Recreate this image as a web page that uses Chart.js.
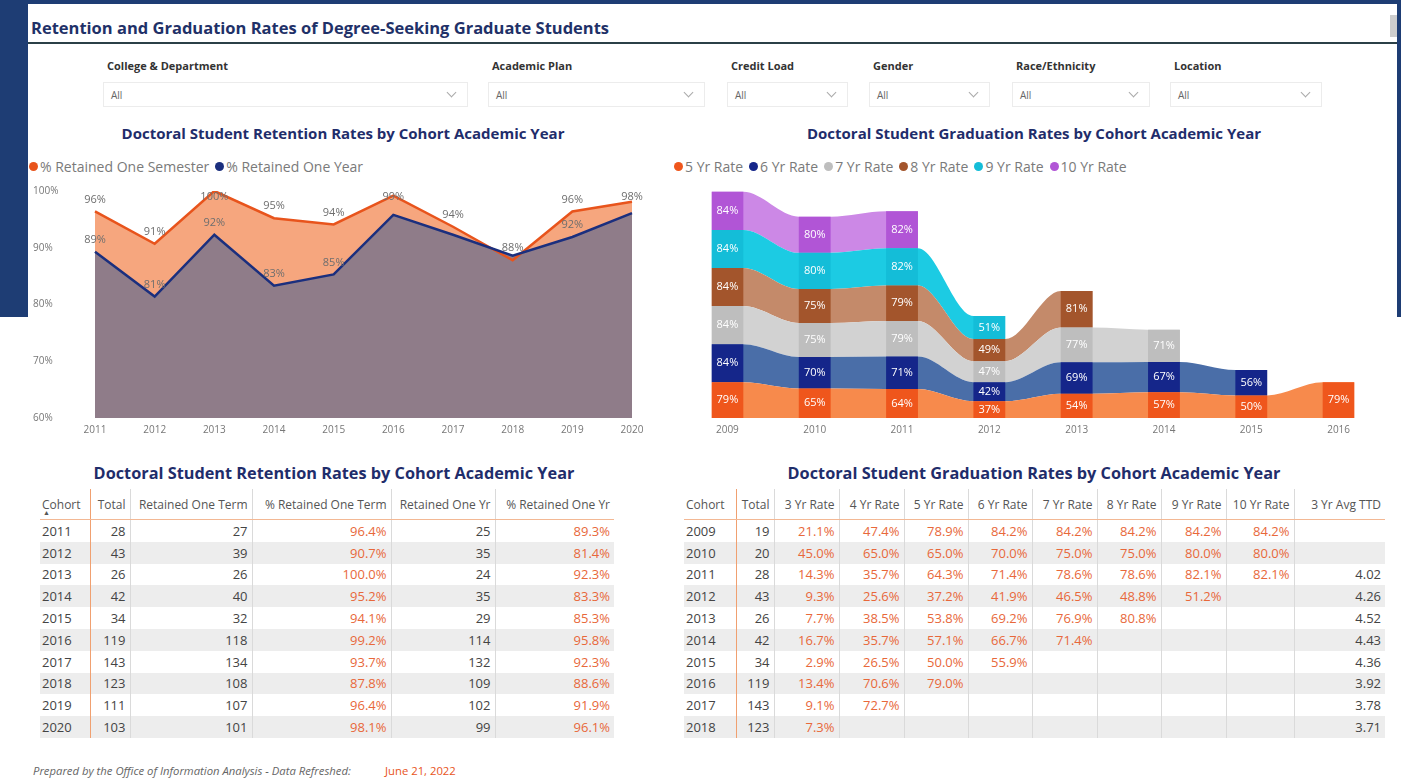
<!DOCTYPE html>
<html>
<head>
<meta charset="utf-8">
<script src="https://cdn.jsdelivr.net/npm/chart.js@4.4.1/dist/chart.umd.min.js"></script>
<style>
  body { margin: 0; width: 1401px; height: 779px; overflow: hidden; background: #fff; position: relative; font-family: "Open Sans", sans-serif; }
  .frame { position: absolute; background: #1e3d74; }
  .abs { position: absolute; }
  .page-title { left: 31px; top: 16px; font-size: 16.5px; font-weight: 700; color: #1f3168; white-space: nowrap; }
  .rule { left: 28px; top: 42px; width: 1369px; height: 2px; background: #2b4047; }
  .scroll { left: 1390px; top: 15px; width: 7px; height: 22px; background: #cdcdcd; }
  .flabel { font-size: 11px; font-weight: 700; color: #333; top: 58px; white-space: nowrap; }
  .fbox { top: 82px; height: 25px; border: 1px solid #ececec; box-sizing: border-box; font-size: 10px; color: #666; line-height: 24px; padding-left: 7px; }
  .fbox .chev { position: absolute; right: 12px; top: 6px; width: 6px; height: 6px; border-right: 1px solid #aaa; border-bottom: 1px solid #aaa; transform: rotate(45deg); }
  .ctitle { font-size: 15px; font-weight: 700; color: #1f2d6b; white-space: nowrap; transform: translateX(-50%); }
  .ttitle { font-size: 16.3px; font-weight: 700; color: #1f2d6b; white-space: nowrap; transform: translateX(-50%); }
  .legend { top: 157px; font-size: 14px; color: #7a7a7a; white-space: nowrap; display: flex; align-items: center; }
  .legend span.dot { display: inline-block; width: 9px; height: 9px; border-radius: 50%; margin-right: 2px; }
  .legend span.item { display: inline-flex; align-items: center; margin-right: 6px; }
  table { position: absolute; border-collapse: collapse; table-layout: fixed; font-size: 13px; color: #444; }
  th { font-size: 12px; font-weight: 400; color: #555; height: 30px; text-align: right; padding: 0 4px; border-bottom: 1px solid #f3b894; white-space: nowrap; overflow: hidden; }
  td { height: 21.8px; padding: 0 4px; text-align: right; white-space: nowrap; }
  th:first-child, td:first-child { text-align: left; padding-left: 2px; }
  th + th, td + td { border-left: 1px solid #dadada; }
  th:nth-child(2), td:nth-child(2) { border-left: 1px solid #f0a070; }
  tbody tr:nth-child(even) td { background: #ededed; }
  td.pct { color: #e8683a; }
  .footer { left: 33px; top: 763px; font-size: 11.3px; font-style: italic; color: #666; white-space: nowrap; }
  .footer .date { color: #e8541c; font-style: normal; position: absolute; left: 352px; }
</style>
</head>
<body>
<div class="frame" style="left:0;top:0;width:1401px;height:4px"></div>
<div class="frame" style="left:0;top:0;width:28px;height:317px"></div>
<div class="frame" style="left:1397px;top:0;width:4px;height:317px"></div>

<div class="abs page-title">Retention and Graduation Rates of Degree-Seeking Graduate Students</div>
<div class="abs rule"></div>
<div class="abs scroll"></div>

<div id="filters"></div>

<div class="abs ctitle" style="left:343px;top:123px">Doctoral Student Retention Rates by Cohort Academic Year</div>
<div class="abs ctitle" style="left:1034px;top:123px">Doctoral Student Graduation Rates by Cohort Academic Year</div>
<div class="abs legend" id="retLegend" style="left:29px"></div>
<div class="abs legend" id="gradLegend" style="left:674px"></div>

<div class="abs" style="left:33px;top:180px;width:619px;height:260px"><canvas id="retentionChart"></canvas></div>
<div class="abs" style="left:710px;top:185px;width:646px;height:260px"><canvas id="graduationChart"></canvas></div>

<div class="abs ttitle" style="left:334px;top:462px">Doctoral Student Retention Rates by Cohort Academic Year</div>
<div class="abs ttitle" style="left:1034px;top:462px">Doctoral Student Graduation Rates by Cohort Academic Year</div>
<table id="retTable" style="left:40px;top:489px;width:574px"></table>
<table id="gradTable" style="left:684px;top:489px;width:701px"></table>

<div class="abs footer">Prepared by the Office of Information Analysis - Data Refreshed: <span class="date">June 21, 2022</span></div>

<script>
// Retention data (cohorts 2011-2020)
const retCohorts = [2011, 2012, 2013, 2014, 2015, 2016, 2017, 2018, 2019, 2020];
const retTotal = [28, 43, 26, 42, 34, 119, 143, 123, 111, 103];
const retTerm = [27, 39, 26, 40, 32, 118, 134, 108, 107, 101];
const retTermPct = [96.4, 90.7, 100.0, 95.2, 94.1, 99.2, 93.7, 87.8, 96.4, 98.1];
const retYr = [25, 35, 24, 35, 29, 114, 132, 109, 102, 99];
const retYrPct = [89.3, 81.4, 92.3, 83.3, 85.3, 95.8, 92.3, 88.6, 91.9, 96.1];
// year-rate labels that the report leaves out (overlapping)
const retYrHiddenLabels = [2016, 2017, 2018, 2020];

// Graduation data (cohorts 2009-2018)
const gradCohorts = [2009, 2010, 2011, 2012, 2013, 2014, 2015, 2016, 2017, 2018];
const gradTotal = [19, 20, 28, 43, 26, 42, 34, 119, 143, 123];
const rate3 = [21.1, 45.0, 14.3, 9.3, 7.7, 16.7, 2.9, 13.4, 9.1, 7.3];
const rate4 = [47.4, 65.0, 35.7, 25.6, 38.5, 35.7, 26.5, 70.6, 72.7, null];
const rate5 = [78.9, 65.0, 64.3, 37.2, 53.8, 57.1, 50.0, 79.0, null, null];
const rate6 = [84.2, 70.0, 71.4, 41.9, 69.2, 66.7, 55.9, null, null, null];
const rate7 = [84.2, 75.0, 78.6, 46.5, 76.9, 71.4, null, null, null, null];
const rate8 = [84.2, 75.0, 78.6, 48.8, 80.8, null, null, null, null, null];
const rate9 = [84.2, 80.0, 82.1, 51.2, null, null, null, null, null, null];
const rate10 = [84.2, 80.0, 82.1, null, null, null, null, null, null, null];
const avgTTD = [null, null, 4.02, 4.26, 4.52, 4.43, 4.36, 3.92, 3.78, 3.71];

const ribbonNames = ["5 Yr Rate", "6 Yr Rate", "7 Yr Rate", "8 Yr Rate", "9 Yr Rate", "10 Yr Rate"];
const ribbonRates = [rate5, rate6, rate7, rate8, rate9, rate10];
const ribbonCohorts = gradCohorts.slice(0, 8);

// colours
const barColors = ["#ef561c", "#15268a", "#bebebe", "#a3552c", "#14bdd8", "#b155d6"];
const ribbonColors = ["#f78a4c", "#4a6ea8", "#d2d2d2", "#c48a6a", "#1ccbe3", "#cc88e6"];
const semesterColor = "#e8541c";
const yearColor = "#1b2f7e";

// Filters
const filters = [
  { name: "College & Department", left: 103, width: 365 },
  { name: "Academic Plan", left: 488, width: 217 },
  { name: "Credit Load", left: 727, width: 121 },
  { name: "Gender", left: 869, width: 121 },
  { name: "Race/Ethnicity", left: 1012, width: 138 },
  { name: "Location", left: 1170, width: 152 },
];
const filterHost = document.getElementById("filters");
filters.forEach((f) => {
  filterHost.insertAdjacentHTML(
    "beforeend",
    `<div class="abs flabel" style="left:${f.left + 4}px">${f.name}</div>` +
      `<div class="abs fbox" style="left:${f.left}px;width:${f.width}px">All<span class="chev"></span></div>`
  );
});

// Legends
function legendHtml(items) {
  return items
    .map((it) => `<span class="item"><span class="dot" style="background:${it.color}"></span>${it.name}</span>`)
    .join("");
}
document.getElementById("retLegend").innerHTML = legendHtml([
  { name: "% Retained One Semester", color: semesterColor },
  { name: "% Retained One Year", color: yearColor },
]);
document.getElementById("gradLegend").innerHTML = legendHtml(
  ribbonNames.map((n, i) => ({ name: n, color: barColors[i] }))
);

// Tables
const pct = (v) => (v == null ? "" : v.toFixed(1) + "%");
function buildTable(id, headers, rows) {
  let html = "<colgroup>" + headers.map((h) => `<col style="width:${h.w}px">`).join("") + "</colgroup>";
  html += "<thead><tr>" + headers.map((h) => `<th>${h.t}</th>`).join("") + "</tr></thead><tbody>";
  rows.forEach((r) => {
    html += "<tr>" + r.map((c) => `<td class="${c.pct ? "pct" : ""}">${c.v}</td>`).join("") + "</tr>";
  });
  html += "</tbody>";
  document.getElementById(id).innerHTML = html;
}

buildTable(
  "retTable",
  [
    { t: "Cohort", w: 50 }, { t: "Total", w: 40 }, { t: "Retained One Term", w: 122 },
    { t: "% Retained One Term", w: 139 }, { t: "Retained One Yr", w: 104 }, { t: "% Retained One Yr", w: 119 },
  ],
  retCohorts.map((c, i) => [
    { v: c }, { v: retTotal[i] }, { v: retTerm[i] }, { v: pct(retTermPct[i]), pct: true },
    { v: retYr[i] }, { v: pct(retYrPct[i]), pct: true },
  ])
);

const gradRateCols = [rate3, rate4, rate5, rate6, rate7, rate8, rate9, rate10];
buildTable(
  "gradTable",
  [
    { t: "Cohort", w: 52 }, { t: "Total", w: 38 }, { t: "3 Yr Rate", w: 65 }, { t: "4 Yr Rate", w: 65 },
    { t: "5 Yr Rate", w: 64 }, { t: "6 Yr Rate", w: 64 }, { t: "7 Yr Rate", w: 65 }, { t: "8 Yr Rate", w: 64 },
    { t: "9 Yr Rate", w: 65 }, { t: "10 Yr Rate", w: 68 }, { t: "3 Yr Avg TTD", w: 91 },
  ],
  gradCohorts.map((c, i) =>
    [{ v: c }, { v: gradTotal[i] }]
      .concat(gradRateCols.map((col) => ({ v: pct(col[i]), pct: true })))
      .concat([{ v: avgTTD[i] == null ? "" : avgTTD[i].toFixed(2) }])
  )
);
document.querySelector("#retTable th").insertAdjacentHTML(
  "beforeend",
  '<span style="position:absolute;left:3px;top:19px;font-size:7px;color:#555">&#9650;</span>'
);

// Retention area chart
const pointLabels = {
  id: "pointLabels",
  afterDatasetsDraw(chart) {
    const ctx = chart.ctx;
    const top = chart.chartArea.top;
    ctx.save();
    ctx.font = "11px 'Open Sans'";
    ctx.fillStyle = "#6e6e6e";
    ctx.textAlign = "center";
    ctx.textBaseline = "middle";
    chart.data.datasets.forEach((ds, di) => {
      chart.getDatasetMeta(di).data.forEach((pt, i) => {
        if (ds.hiddenLabels && ds.hiddenLabels.includes(retCohorts[i])) return;
        ctx.fillText(Math.round(ds.data[i]) + "%", pt.x, Math.max(pt.y - 12, top + 6));
      });
    });
    ctx.restore();
  },
};

new Chart(document.getElementById("retentionChart"), {
  type: "line",
  data: {
    labels: retCohorts,
    datasets: [
      {
        label: "% Retained One Semester",
        data: retTermPct,
        borderColor: semesterColor,
        backgroundColor: "#f6a67e",
        borderWidth: 2.5,
        pointRadius: 0,
        fill: "start",
        order: 1,
      },
      {
        label: "% Retained One Year",
        data: retYrPct,
        borderColor: yearColor,
        backgroundColor: "#8f7c89",
        borderWidth: 2.5,
        pointRadius: 0,
        fill: "start",
        order: 0,
        hiddenLabels: retYrHiddenLabels,
      },
    ],
  },
  options: {
    responsive: true,
    maintainAspectRatio: false,
    animation: false,
    layout: { padding: { top: 11, right: 20 } },
    plugins: {
      legend: { display: false },
      tooltip: { enabled: false },
      filler: { drawTime: "beforeDatasetsDraw" },
    },
    scales: {
      x: {
        offset: false,
        grid: { display: false, drawTicks: false },
        border: { display: false },
        ticks: { color: "#777", font: { size: 10, family: "Open Sans" }, padding: 6, maxRotation: 0 },
        afterFit: (s) => { s.height = 22; },
      },
      y: {
        min: 60,
        max: 100,
        grid: { display: false, drawTicks: false },
        border: { display: false },
        ticks: {
          stepSize: 10,
          color: "#777",
          crossAlign: "far",
          font: { size: 10, family: "Open Sans" },
          callback: (v) => v + "%",
        },
        afterFit: (s) => { s.width = 62; },
      },
    },
  },
  plugins: [pointLabels],
});

// Graduation ribbon chart
const half = 0.1824; // half bar width, in category units
const barDatasets = ribbonRates.map((rates, s) => ({
  type: "bar",
  label: ribbonNames[s],
  data: ribbonCohorts.map((c, i) => ({ x: i, y: rates[i] })).filter((p) => p.y != null),
  backgroundColor: barColors[s],
  barPercentage: 1,
  categoryPercentage: half * 2,
  order: 0,
}));
const ribbonDatasets = ribbonRates.map((rates, s) => {
  const pts = [];
  ribbonCohorts.forEach((c, i) => {
    if (rates[i] == null) return;
    pts.push({ x: i - half, y: rates[i] }, { x: i + half, y: rates[i] });
  });
  return {
    type: "line",
    label: ribbonNames[s] + " ribbon",
    data: pts,
    borderWidth: 0,
    pointRadius: 0,
    backgroundColor: ribbonColors[s],
    cubicInterpolationMode: "monotone",
    fill: s === 0 ? "origin" : "-1",
    order: 1,
  };
});

const barLabels = {
  id: "barLabels",
  afterDatasetsDraw(chart) {
    const ctx = chart.ctx;
    ctx.save();
    ctx.font = "11px 'Open Sans'";
    ctx.fillStyle = "#fff";
    ctx.textAlign = "center";
    ctx.textBaseline = "middle";
    chart.data.datasets.forEach((ds, di) => {
      if (ds.type !== "bar") return;
      chart.getDatasetMeta(di).data.forEach((bar, i) => {
        ctx.fillText(Math.round(ds.data[i].y) + "%", bar.x, (bar.y + bar.base) / 2);
      });
    });
    ctx.restore();
  },
};

new Chart(document.getElementById("graduationChart"), {
  data: { datasets: barDatasets.concat(ribbonDatasets) },
  options: {
    responsive: true,
    maintainAspectRatio: false,
    animation: false,
    layout: { padding: 0 },
    plugins: { legend: { display: false }, tooltip: { enabled: false } },
    scales: {
      x: {
        type: "linear",
        offset: false,
        stacked: true,
        min: -half,
        max: ribbonCohorts.length - 1 + half,
        grid: { display: false, drawTicks: false },
        border: { display: false },
        afterBuildTicks: (axis) => {
          axis.ticks = ribbonCohorts.map((c, i) => ({ value: i }));
        },
        ticks: {
          color: "#777",
          font: { size: 10, family: "Open Sans" },
          padding: 6,
          maxRotation: 0,
          callback: (v) => ribbonCohorts[v],
        },
        afterFit: (s) => { s.height = 27; },
      },
      y: { display: false, stacked: true, min: 0, max: 515 },
    },
  },
  plugins: [barLabels],
});
</script>
</body>
</html>
